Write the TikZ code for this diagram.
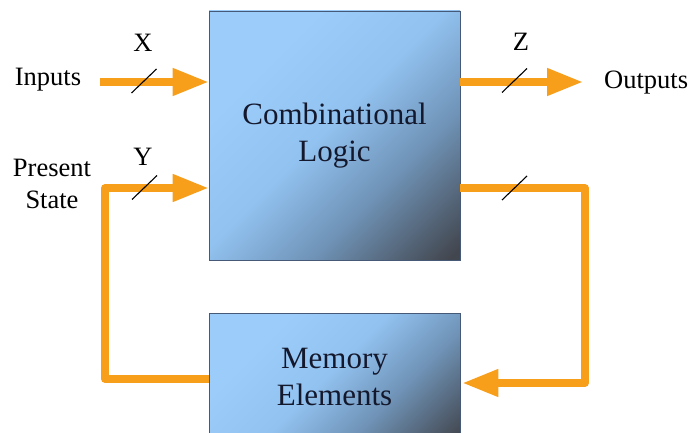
\documentclass[tikz,border=0pt]{standalone}
\usepackage{fontspec}
\setmainfont{Liberation Serif}
\usetikzlibrary{arrows.meta,calc}
\definecolor{arrorange}{RGB}{247,158,27}
\definecolor{lb}{RGB}{156,204,250}
\definecolor{lb2}{RGB}{146,194,240}
\definecolor{mb}{RGB}{112,148,184}
\definecolor{dk}{RGB}{66,70,78}
\definecolor{boxedge}{RGB}{70,90,120}
\definecolor{boxtext}{RGB}{20,24,44}
\pgfdeclarehorizontalshading{blockshade}{100bp}{color(0bp)=(lb); color(30bp)=(lb); color(48bp)=(lb2); color(64bp)=(mb); color(84bp)=(dk); color(100bp)=(dk)}
\tikzset{
  x=1pt, y=1pt,
  blocktext/.style={align=center, text=boxtext, font=\rmfamily\fontsize{31}{37.5}\selectfont, inner sep=0pt},
  block/.style={draw=boxedge, line width=0.8pt, shading=blockshade, shading angle=-45,
    minimum width=251pt, blocktext},
  lbl/.style={font=\rmfamily\fontsize{26.5}{32}\selectfont, text=black, inner sep=0pt, align=center},
  arr/.style={draw=arrorange, line width=7.5pt, line join=round,
    -{Triangle[length=36pt,width=26pt]}},
  slash/.style={draw=black, line width=1.1pt}
}
\begin{document}
\begin{tikzpicture}
\useasboundingbox (0,0) rectangle (691,432);
% blocks
\node[block, minimum height=249pt] (cl) at (334.5,296.5) {Combinational\\Logic};
\node[block, minimum height=132pt] (mem) at (334.5,53) {};
\node[blocktext] (memtxt) at (334.5,55) {Memory\\Elements};
% labels
\node[lbl] (inputs) at (48,352) {Inputs};
\node[lbl] (pstate) at (52,248) {Present\\State};
\node[lbl, anchor=west] (outputs) at (604,349) {Outputs};
\node[lbl] (xl) at (143,389) {X};
\node[lbl] (yl) at (143,275) {Y};
\node[lbl] (zl) at (521,390) {Z};
% coordinates
\coordinate (inS) at (100,350);
\coordinate (outE) at (583,350);
\coordinate (psL) at (105,244);
\coordinate (fbR) at (585,244);
% connectors
\draw[arr] (inS) -- (inS -| cl.west);
\draw[arr] (cl.east |- outE) -- (outE);
\draw[arr] (mem.west) -| (psL) -- (psL -| cl.west);
\draw[arr] (cl.east |- fbR) -- (fbR) |- ([xshift=2pt,yshift=-4pt]mem.east);
% bus slashes
\draw[slash] (131.5,339) -- (156.5,363);
\draw[slash] (132,232.5) -- (157,256.5);
\draw[slash] (502,339.5) -- (527,363.5);
\draw[slash] (502,232) -- (527,256);
\end{tikzpicture}
\end{document}
